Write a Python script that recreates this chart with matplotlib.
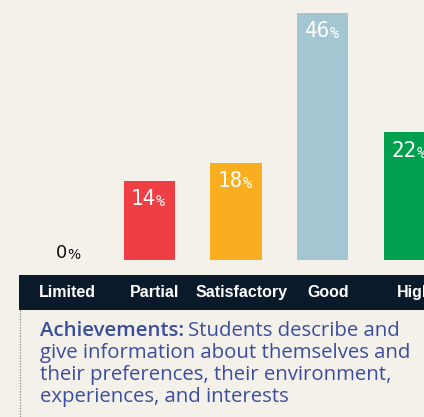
import matplotlib
matplotlib.use("Agg")
import matplotlib.pyplot as plt
from matplotlib.patches import Rectangle
from matplotlib.lines import Line2D
import matplotlib.transforms as mtransforms

categories = ["Limited", "Partial", "Satisfactory", "Good", "High"]
bar_heights = [0, 14.7, 18.1, 46, 23.8]   # heights as drawn in the picture
value_labels = ["0", "14", "18", "46", "22"]  # printed labels
colors = ["#F03E45", "#F03E45", "#F9AE1F", "#A3C6D2", "#00A04E"]

W, H = 424, 417
fig = plt.figure(figsize=(W / 100, H / 100), dpi=100)
bg = "#F4F0EA"
fig.patch.set_facecolor(bg)

bottom_px = 260
ax = fig.add_axes([0, (H - bottom_px) / H, 1, bottom_px / H])
ax.set_facecolor(bg)
ax.set_xlim(-0.72, 4.165)
ax.set_ylim(0, 260 / 5.37)
ax.axis("off")
x = list(range(len(categories)))
ax.bar(x, bar_heights, width=0.59, color=colors)

mono = "DejaVu Sans Mono"
for xi, v, lab in zip(x, bar_heights, value_labels):
    if v == 0:
        ax.annotate(lab, xy=(xi, v), xytext=(3.5, -1.5), textcoords="offset points",
                    ha="right", va="bottom", color="#111111", fontsize=13,
                    family="DejaVu Sans")
        ax.annotate("%", xy=(xi, v), xytext=(3.5, -1.5), textcoords="offset points",
                    ha="left", va="bottom", color="#111111", fontsize=10,
                    family="DejaVu Sans")
    else:
        ax.annotate(lab, xy=(xi, v), xytext=(5, -6), textcoords="offset points",
                    ha="right", va="top", color="white", fontsize=15,
                    family=mono)
        ax.annotate("%", xy=(xi, v), xytext=(5, -9.6), textcoords="offset points",
                    ha="left", va="top", color="white", fontsize=11,
                    family=mono)

band_top, band_bot = 275, 310
fig.patches.append(Rectangle((19 / W, 1 - band_bot / H), (W - 19) / W, (band_bot - band_top) / H,
                             transform=fig.transFigure, facecolor="#0B1A2B", edgecolor="none"))
trans = mtransforms.blended_transform_factory(ax.transData, fig.transFigure)
for xi, c in zip(x, categories):
    fig.text(xi + 0.06, 1 - (band_top + band_bot) / 2 / H, c, transform=trans,
             ha="center", va="center", color="white", fontsize=11.5, fontweight="bold",
             family="Liberation Sans")

fig.lines.append(Line2D([20 / W, 20 / W], [0, 1 - band_bot / H], transform=fig.transFigure,
                        color="#999999", linestyle=(0, (1, 1)), linewidth=1))

txt_color = "#3B4E9E"
lines = ["give information about themselves and",
         "their preferences, their environment,",
         "experiences, and interests"]
fam = "Open Sans"
fs = 12.5
probe = fig.text(0, 0, lines[0], fontsize=fs, family=fam)
fig.canvas.draw()
wpx = probe.get_window_extent().width
probe.remove()
fs = fs * 373 / wpx

y0 = 331
t = fig.text(40 / W, 1 - y0 / H, "Achievements:", color=txt_color, fontsize=fs,
             fontweight="semibold", family=fam, va="center", ha="left")
fig.canvas.draw()
bb = t.get_window_extent()
fig.text(bb.x1 / W + 4 / W, 1 - y0 / H, "Students describe and", color=txt_color,
         fontsize=fs, family=fam, va="center", ha="left")
for i, l in enumerate(lines):
    fig.text(40 / W, 1 - (y0 + 22 * (i + 1)) / H, l, color=txt_color, fontsize=fs,
             family=fam, va="center", ha="left")

fig.savefig("out.png", dpi=100, facecolor=bg)
